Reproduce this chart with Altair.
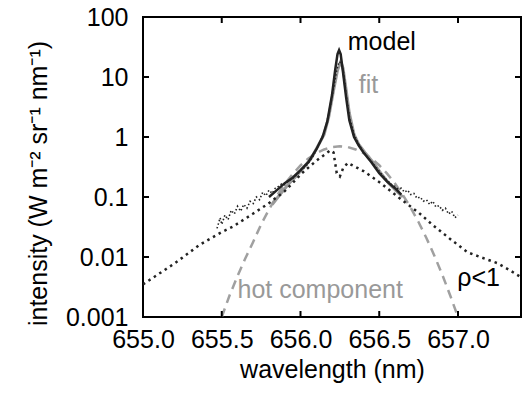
import altair as alt
import pandas as pd

# ---------------- data ----------------
model_x = [655.80, 655.85, 655.90, 655.95, 656.00, 656.05, 656.10, 656.14, 656.17, 656.20,
           656.22, 656.235, 656.245, 656.255, 656.27, 656.29, 656.31, 656.34, 656.37, 656.40,
           656.45, 656.50, 656.55, 656.60, 656.64]
model_y = [0.10, 0.13, 0.17, 0.21, 0.28, 0.38, 0.62, 1.0, 1.8, 5.0,
           13, 24, 28, 24, 12, 4.5, 1.9, 1.0, 0.72, 0.55,
           0.38, 0.25, 0.18, 0.14, 0.11]

fit_x = [655.82, 655.87, 655.92, 655.97, 656.02, 656.07, 656.11, 656.15, 656.18, 656.21,
         656.235, 656.255, 656.27, 656.29, 656.31, 656.34, 656.37, 656.41, 656.46, 656.51,
         656.56, 656.61, 656.65]
fit_y = [0.075, 0.11, 0.16, 0.22, 0.31, 0.45, 0.70, 1.1, 2.2, 6.0,
         13, 18, 14, 6.0, 2.5, 1.1, 0.75, 0.55, 0.38, 0.25,
         0.17, 0.125, 0.10]

hot_x = [655.50, 655.55, 655.60, 655.65, 655.70, 655.75, 655.80, 655.85, 655.90, 655.95,
         656.00, 656.05, 656.10, 656.15, 656.20, 656.25, 656.30, 656.35, 656.40, 656.45,
         656.50, 656.55, 656.60, 656.65, 656.70, 656.75, 656.80, 656.85, 656.90, 656.95, 657.00]
hot_y = [0.0010, 0.0023, 0.0048, 0.0095, 0.018, 0.035, 0.062, 0.105, 0.165, 0.24,
         0.335, 0.44, 0.54, 0.62, 0.68, 0.70, 0.68, 0.62, 0.54, 0.44,
         0.338, 0.245, 0.168, 0.108, 0.066, 0.038, 0.0206, 0.0105, 0.0051, 0.0023, 0.0010]

rho_x = [655.00, 655.20, 655.36, 655.50, 655.57, 655.70, 655.80, 655.90, 656.01, 656.10,
         656.19, 656.21, 656.23, 656.25, 656.27, 656.30, 656.40, 656.51, 656.63, 656.75,
         656.84, 656.95, 657.06, 657.15, 657.25, 657.33, 657.40]
rho_y = [0.0035, 0.0078, 0.016, 0.026, 0.032, 0.053, 0.079, 0.125, 0.25, 0.40,
         0.60, 0.55, 0.25, 0.22, 0.30, 0.37, 0.27, 0.17, 0.095, 0.055,
         0.034, 0.020, 0.012, 0.0098, 0.0079, 0.006, 0.0046]

data_x = [655.47, 655.49, 655.50, 655.52, 655.54, 655.56, 655.58, 655.60, 655.62, 655.64,
          655.66, 655.68, 655.70, 655.72, 655.74, 655.76, 655.78, 655.80, 655.82, 655.84,
          655.86, 655.88, 655.90, 655.92, 655.94, 655.96, 655.98, 656.00, 656.04, 656.08,
          656.12, 656.15, 656.18, 656.21, 656.23, 656.245, 656.26, 656.275, 656.29, 656.31,
          656.34, 656.37, 656.40, 656.43, 656.46, 656.49, 656.52, 656.55, 656.58, 656.60,
          656.62, 656.64, 656.66, 656.68, 656.70, 656.72, 656.74, 656.76, 656.78, 656.80,
          656.82, 656.84, 656.86, 656.88, 656.90, 656.92, 656.94, 656.96, 656.98, 657.00]
data_y = [0.030, 0.045, 0.035, 0.050, 0.042, 0.060, 0.052, 0.070, 0.058, 0.075,
          0.065, 0.085, 0.078, 0.100, 0.090, 0.120, 0.105, 0.130, 0.115, 0.140,
          0.150, 0.165, 0.160, 0.185, 0.195, 0.215, 0.240, 0.270, 0.34, 0.48,
          0.78, 1.2, 2.4, 6.5, 13, 18, 17, 11, 5.0, 2.2,
          1.1, 0.75, 0.56, 0.45, 0.36, 0.29, 0.23, 0.19, 0.16, 0.15,
          0.135, 0.14, 0.12, 0.13, 0.11, 0.115, 0.095, 0.10, 0.085, 0.09,
          0.075, 0.085, 0.068, 0.072, 0.060, 0.065, 0.052, 0.058, 0.045, 0.050]

label_text = ["model", "fit", "hot component", "ρ<1"]
label_x = [656.30, 656.37, 655.60, 656.995]
label_y = [38, 7.3, 0.0028, 0.0045]
label_color = ["black", "#999999", "#999999", "black"]

x_ticks = [655.0, 655.5, 656.0, 656.5, 657.0]
y_ticks = [0.001, 0.01, 0.1, 1, 10, 100]

# ---------------- chart ----------------
FONT = "Liberation Sans"
FS = 25
W, H = 378, 300
TL = 6  # inward tick length
xscale = alt.Scale(domain=[655.0, 657.4], nice=False, zero=False)
yscale = alt.Scale(type="log", domain=[0.001, 100], nice=False)

common_axis = dict(ticks=False, domain=False, grid=False, labelFontSize=FS, labelFont=FONT,
                   labelColor="black", labelOverlap=False, labelFlush=False,
                   titleFontSize=FS, titleFont=FONT, titleFontWeight="normal",
                   titleColor="black")

x_bottom = alt.Axis(values=x_ticks, format=".1f", orient="bottom", labelPadding=10,
                    title="wavelength (nm)", titlePadding=5, **common_axis)
y_left = alt.Axis(values=y_ticks, format="~g", orient="left", labelPadding=15,
                  title="intensity (W m⁻² sr⁻¹ nm⁻¹)", titleX=-92, titleY=166,
                  **common_axis)


def line_layer(xs, ys, color, width, dash=None, xaxis=None, yaxis=None):
    df = pd.DataFrame({"x": xs, "y": ys})
    kw = dict(color=color, strokeWidth=width, clip=True)
    if dash is not None:
        kw["strokeDash"] = dash
    return alt.Chart(df).mark_line(**kw).encode(
        x=alt.X("x:Q", scale=xscale, axis=xaxis),
        y=alt.Y("y:Q", scale=yscale, axis=yaxis),
    )


hot = line_layer(hot_x, hot_y, "#a0a0a0", 2.5, [9, 6], xaxis=x_bottom, yaxis=y_left)
fit = line_layer(fit_x, fit_y, "#999999", 3)
rho = line_layer(rho_x, rho_y, "#222222", 2.5, [2.5, 4])
dat = line_layer(data_x, data_y, "#222222", 1.6, [1.5, 2.2])
model = line_layer(model_x, model_y, "#222222", 2.5)

# inward tick marks on all four sides
xt = pd.DataFrame({"v": x_ticks})
yt = pd.DataFrame({"v": y_ticks})
tick_style = dict(color="black", strokeWidth=2)
xt_bottom = alt.Chart(xt).mark_rule(**tick_style).encode(
    x=alt.X("v:Q", scale=xscale, axis=None), y=alt.value(H), y2=alt.value(H - TL))
xt_top = alt.Chart(xt).mark_rule(**tick_style).encode(
    x=alt.X("v:Q", scale=xscale, axis=None), y=alt.value(0), y2=alt.value(TL))
yt_left = alt.Chart(yt).mark_rule(**tick_style).encode(
    y=alt.Y("v:Q", scale=yscale, axis=None), x=alt.value(0), x2=alt.value(TL))
yt_right = alt.Chart(yt).mark_rule(**tick_style).encode(
    y=alt.Y("v:Q", scale=yscale, axis=None), x=alt.value(W), x2=alt.value(W - TL))

labels_df = pd.DataFrame({"x": label_x, "y": label_y, "t": label_text, "c": label_color})
labels = alt.Chart(labels_df).mark_text(align="left", baseline="middle", font=FONT,
                                        fontSize=FS).encode(
    x=alt.X("x:Q", scale=xscale, axis=None),
    y=alt.Y("y:Q", scale=yscale, axis=None),
    text="t:N",
    color=alt.Color("c:N", scale=None),
)

chart = alt.layer(hot, fit, rho, dat, model, xt_bottom, xt_top, yt_left, yt_right,
                  labels).resolve_axis(x="independent", y="independent").properties(
    width=W, height=H,
    autosize=alt.AutoSizeParams(type="none"),
    padding={"left": 143, "top": 17, "right": 6, "bottom": 80},
    background="white",
).configure_view(stroke="black", strokeWidth=2)

chart.save("out.html", embed_options={"renderer": "svg", "actions": False})
